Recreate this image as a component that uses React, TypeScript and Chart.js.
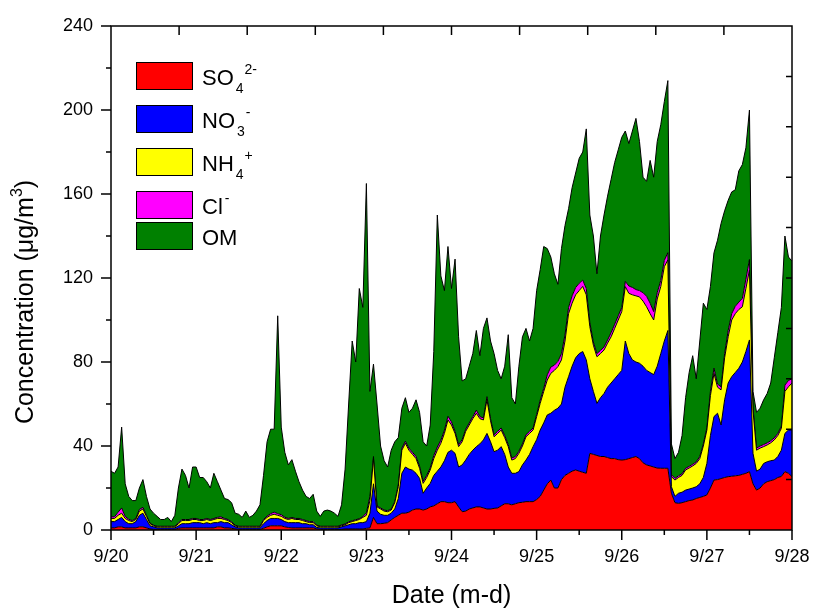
import React, { useEffect, useRef } from "react";
import { Chart, registerables } from "chart.js";

Chart.register(...registerables);

// hours since 9/20 00:00 (hourly samples, 9/20 .. 9/28)
const HOURS: number[] = Array.from({ length: 193 }, (_, i) => i);
const DAY_LABELS = ["9/20", "9/21", "9/22", "9/23", "9/24", "9/25", "9/26", "9/27", "9/28"];
const Y_MAX = 240;
const Y_STEP = 40;

const SO4 = [
  1, 1, 1.5, 1.5, 1, 1, 1, 1, 1.5, 1.5,
  1, .5, .3, .3, .3, .3, .3, .3, .3, .8,
  1, 1, 1, 1, 1, 1, 1, 1, 1, 1,
  1.5, 1.5, 1, 1, .8, .5, .3, .3, .3, .3,
  .3, .3, .3, .8, 1.5, 2, 2, 2, 2, 1.5,
  1.2, 1, 1, 1, 1, 1, 1, 1, .5, .3,
  .3, .3, .3, .3, .3, .3, .5, .5, .5, .5,
  .5, .5, .8, 1, 6, 3, 3, 3.2, 3.5, 4.8,
  6, 7, 8, 8, 8.5, 9.5, 10, 10, 9.5, 10,
  11, 11.5, 12.5, 13.5, 13.5, 13, 13, 13.5, 11, 8.7,
  9, 10, 10.5, 11, 11, 10.5, 10, 10, 10.3, 10.5,
  11.5, 12.5, 12.5, 12, 12.5, 13, 13.2, 13.5, 13.5, 13.5,
  14.5, 16, 19, 22, 23.8, 20, 20, 24, 26, 27,
  28, 28.6, 28, 27.5, 27, 36.5, 36, 35.5, 35, 35,
  34.5, 34, 34, 33.5, 33.3, 33.5, 34, 34.5, 35, 34,
  32, 31, 30.5, 30, 29.5, 29.4, 29.4, 29.4, 17.5, 13,
  12.7, 13, 13.5, 14, 14.3, 15, 15.5, 16, 16.7, 20,
  23.8, 24, 24.5, 25, 25.4, 25.6, 25.8, 26, 26.5, 27,
  27.8, 22, 19, 20, 22, 23, 23.5, 24, 25, 25.5,
  27.8, 27, 25.4,
];

const NO3 = [
  3, 3, 3.5, 4.5, 3, 2, 2, 3, 5.5, 6.5,
  4, 1.5, 1.2, .7, .7, .7, .7, .7, .7, 1.2,
  2, 2, 2, 2.5, 2.5, 2.5, 2, 2.5, 2, 2.5,
  2, 2.5, 2.5, 2.5, 1.7, 1, .7, .7, .7, .7,
  .7, .7, .7, 2.2, 3, 3.5, 3.5, 3.5, 3, 2.5,
  2.3, 2.5, 2.5, 2.5, 2, 2, 1.5, 1.5, .7, .7,
  .7, .7, .7, .7, .7, 1.2, 1.5, 2, 2.5, 2.5,
  3, 3, 3.2, 7, 16, 6, 4.5, 3.8, 3.5, 3.2,
  4, 8, 19, 22, 20.5, 19, 17, 14.6, 8, 10,
  11.2, 14.5, 15.5, 16.5, 19.5, 24, 25, 23, 19, 22.3,
  24.3, 26, 27.5, 28.7, 30, 32.4, 36, 32, 27, 27.5,
  28.2, 23.5, 17.5, 15, 14.5, 14.8, 17.8, 19.8, 22.5, 26.2,
  28.5, 31.6, 32, 32.8, 31.8, 37, 38, 36, 42, 46,
  50, 53.4, 56, 57.5, 54, 35.5, 30, 24.8, 28, 30,
  33.5, 36, 38, 40.5, 42.7, 56.5, 50, 46.5, 45, 45.4,
  46, 45, 44.5, 44, 48.5, 54.6, 60.6, 65.6, 3.1, 3,
  4.8, 5, 5.5, 5.5, 5.7, 5.6, 6.5, 9, 15, 25,
  30.2, 31.6, 25.5, 37, 44.6, 47.4, 49.2, 51, 53.5, 58,
  62.7, 14.5, 9, 9, 9.7, 9.5, 9.5, 9.3, 10, 12.5,
  18.2, 20.6, 22.2,
];

const NH4 = [
  1.5, 1.5, 2, 2, 1.5, 1.5, 1, 1, 2, 2,
  1.5, 1, .5, .5, .5, .5, .5, .5, .5, 1,
  1.5, 1.5, 1.5, 1.5, 1.5, 1, 1.5, 1.5, 1.5, 1.5,
  2, 1.5, 1.5, 1, 1, .5, .5, .5, .5, .5,
  .5, .5, .5, 1.5, 1.5, 1.5, 2, 1.5, 1.5, 1.5,
  1.5, 2, 1.5, 1.5, 1.5, 1, 1, 1, .8, .5,
  .5, .5, .5, .5, .5, .5, .5, 1, 1, 1.5,
  1.5, 2.5, 3, 6, 12, 2, 2.5, 2, 1.7, 1.5,
  3, 5.6, 11, 11.3, 9, 7.5, 7, 4.8, 4.7, 5,
  6.4, 8, 10, 11.3, 13, 15.4, 12, 9.5, 9.7, 11,
  13.7, 14, 15, 15.9, 12, 9.5, 16, 10, 7.1, 8,
  7.9, 8, 9.7, 6.3, 7, 8.7, 9, 11.1, 10, 7.9,
  11, 12.7, 15, 16.6, 19, 19, 19.8, 21, 22, 30,
  30, 30, 30, 31, 31, 24.8, 22, 22.2, 21, 20.7,
  21, 22, 24, 26, 28, 25.9, 28.7, 31, 31.5, 31.6,
  31, 30.3, 28, 26, 32, 31.9, 35.4, 33.6, 4.8, 7.8,
  7.5, 8, 9.6, 10, 10.5, 11.1, 12, 15, 15.9, 19,
  20.6, 12.4, 16.7, 20, 22, 27, 28, 28, 26.3, 30,
  33.3, 20.5, 10, 10, 8, 8, 8.5, 9.6, 10, 10.4,
  20, 20.6, 22.4,
];

const CL = [
  .8, .8, 1.5, 2.5, 1, .6, .5, .5, .8, .8,
  .5, .3, .3, .3, .3, .3, .3, .3, .3, .4,
  .5, .5, .5, .5, .5, .5, .5, .5, .5, .5,
  .5, .8, .5, .5, .4, .3, .3, .3, .3, .3,
  .3, .3, .3, .5, .6, .8, 1, .8, .8, .6,
  .5, .5, .5, .5, .5, .5, .5, .5, .3, .3,
  .3, .3, .3, .3, .3, .4, .4, .4, .4, .4,
  .4, .4, 1.2, 2, 1, .5, .5, .5, .5, .5,
  .5, 1, 1, 1, 1, 1, 1, 1, 1, 1,
  1, 1.5, 1.5, 1.5, 1.5, 1.8, 1.5, 1, 1, 1,
  1, 1, 1, 1.5, 1, 1, 1.5, 1, 1, 1,
  1, 1, 1, 1, 1, 1, 1, 1, 1, 1,
  1, 1.5, 1.5, 2.5, 3, 2.5, 2.5, 3, 3, 3,
  3.5, 3.5, 3.5, 3, 3, 2, 1.5, 1.5, 1.5, 1.5,
  1.5, 2, 2, 2, 2, 2.5, 3.5, 3.5, 3, 3,
  4, 5, 5, 4, 3, 3, 3, 3.5, 1, .8,
  .8, .8, .8, .8, .8, .8, 1, 1, 1, 2,
  2.5, 1.5, 1.5, 2, 3, 3, 3.5, 3.5, 4, 4.5,
  5, 1.5, 1, 1, 1, 1, 1, 1, 1, 1,
  3, 3, 2,
];

const OM = [
  21.7, 20.7, 21.5, 38.5, 15.5, 10.9, 9.5, 8.5, 10.2, 13.2,
  9, 6.7, 5.7, 4.7, 3.2, 3.2, 4.2, 2.2, 5.2, 16.6,
  24, 21, 15, 24.5, 24.5, 20, 20, 17.5, 15, 21.5,
  17, 12.7, 9.5, 9.5, 9.1, 5.7, 5.7, 4.2, 7.2, 4.2,
  5.2, 7.2, 10.2, 21, 35.4, 40.2, 39.5, 94.2, 41.7, 30.9,
  25.5, 27.5, 22.5, 17.5, 14, 11.5, 11, 13, 6.7, 4.7,
  7.2, 7.7, 7.2, 6.2, 4.7, 9.6, 26.1, 56.1, 85.6, 75.1,
  109.6, 99.6, 156.8, 50, 44, 48.5, 29.5, 23.5, 20.8, 28,
  28.5, 22.4, 19, 20.7, 17, 21, 27, 25.6, 18.8, 14,
  20.4, 49.5, 110.5, 78.2, 66.5, 80.8, 63.5, 82, 51.3, 28,
  24, 27, 30, 37.9, 29, 42.6, 37.5, 37, 38.6, 29,
  23.4, 33, 52.3, 28.7, 25, 40.5, 51, 50.6, 43, 47.4,
  59, 62.2, 67.5, 60.1, 52.4, 43.5, 36.7, 50, 52, 47,
  51.5, 54.5, 59.5, 61, 76, 51.2, 50.5, 38, 54.5, 62.8,
  68.5, 73, 77, 79, 81, 71.6, 67.8, 74.5, 81.5, 71,
  55, 54.7, 68, 64, 72, 74.1, 75.6, 81.9, 14.6, 9.4,
  11.2, 18.2, 33.6, 44.7, 51.7, 39.5, 55, 67, 56.4, 50,
  54.9, 68.5, 77.8, 68, 62, 58, 55.5, 62.5, 63.7, 62.5,
  71.2, 7.5, 17, 18, 21.3, 23.5, 27.5, 38.1, 48, 56.6,
  71, 58.8, 56,
];

type Part = { t: string; k: "n" | "sub" | "sup" };
const SERIES: { parts: Part[]; color: string; values: number[] }[] = [
  { parts: [{ t: "SO", k: "n" }, { t: "4", k: "sub" }, { t: "2-", k: "sup" }], color: "#FF0000", values: SO4 },
  { parts: [{ t: "NO", k: "n" }, { t: "3", k: "sub" }, { t: "-", k: "sup" }], color: "#0000FF", values: NO3 },
  { parts: [{ t: "NH", k: "n" }, { t: "4", k: "sub" }, { t: "+", k: "sup" }], color: "#FFFF00", values: NH4 },
  { parts: [{ t: "Cl", k: "n" }, { t: "-", k: "sup" }], color: "#FF00FF", values: CL },
  { parts: [{ t: "OM", k: "n" }], color: "#008000", values: OM },
];

const FONT = "'Liberation Sans', Arial, Helvetica, sans-serif";

const decorPlugin = {
  id: "decor",
  afterDraw(chart: any) {
    const { ctx, chartArea: a, scales } = chart;
    const xs = scales.x;
    const ys = scales.y;
    ctx.save();
    ctx.strokeStyle = "#000";
    ctx.lineWidth = 1.5;
    ctx.strokeRect(a.left, a.top, a.right - a.left, a.bottom - a.top);
    ctx.beginPath();
    for (let h = 0; h <= 192; h += 12) {
      const px = xs.getPixelForValue(h);
      const len = h % 24 === 0 ? 10 : 5;
      ctx.moveTo(px, a.bottom);
      ctx.lineTo(px, a.bottom + len);
    }
    for (let v = 0; v <= Y_MAX; v += Y_STEP / 2) {
      const py = ys.getPixelForValue(v);
      const len = v % Y_STEP === 0 ? 10 : 5;
      ctx.moveTo(a.left, py);
      ctx.lineTo(a.left - len, py);
    }
    for (let i = 1; i < 10; i++) {
      const px = xs.getPixelForValue((192 * i) / 10);
      ctx.moveTo(px, a.top);
      ctx.lineTo(px, a.top + 9);
      const py = ys.getPixelForValue((Y_MAX * i) / 10);
      ctx.moveTo(a.right, py);
      ctx.lineTo(a.right - 6, py);
    }
    ctx.stroke();

    // axis titles
    ctx.fillStyle = "#000";
    ctx.font = `25px ${FONT}`;
    ctx.textAlign = "center";
    ctx.textBaseline = "alphabetic";
    ctx.fillText("Date (m-d)", (a.left + a.right) / 2, 603);

    ctx.save();
    ctx.translate(33, 302);
    ctx.rotate(-Math.PI / 2);
    const main = "Concentration (\u03bcg/m";
    ctx.font = `25px ${FONT}`;
    const w1 = ctx.measureText(main).width;
    ctx.font = `16px ${FONT}`;
    const w2 = ctx.measureText("3").width;
    ctx.font = `25px ${FONT}`;
    const w3 = ctx.measureText(")").width;
    const total = w1 + w2 + w3;
    ctx.textAlign = "left";
    let cx = -total / 2;
    ctx.fillText(main, cx, 0);
    cx += w1;
    ctx.font = `16px ${FONT}`;
    ctx.fillText("3", cx, -11);
    cx += w2;
    ctx.font = `25px ${FONT}`;
    ctx.fillText(")", cx, 0);
    ctx.restore();

    // legend
    const boxTops = [62, 105, 148, 191, 222];
    SERIES.forEach((s, i) => {
      const top = boxTops[i];
      ctx.fillStyle = s.color;
      ctx.fillRect(136, top, 57, 28);
      ctx.lineWidth = 1;
      ctx.strokeStyle = "#000";
      ctx.strokeRect(136.5, top + 0.5, 56, 27);
      ctx.fillStyle = "#000";
      ctx.textAlign = "left";
      let tx = 202;
      const base = top + 23;
      s.parts.forEach((p) => {
        if (p.k === "n") {
          ctx.font = `22px ${FONT}`;
          ctx.fillText(p.t, tx, base);
          tx += ctx.measureText(p.t).width + 2;
        } else if (p.k === "sub") {
          ctx.font = `14px ${FONT}`;
          ctx.fillText(p.t, tx, base + 8);
          tx += ctx.measureText(p.t).width + 1;
        } else {
          ctx.font = `14px ${FONT}`;
          ctx.fillText(p.t, tx, base - 11);
          tx += ctx.measureText(p.t).width;
        }
      });
    });
    ctx.restore();
  },
};

export default function App() {
  const ref = useRef<HTMLCanvasElement>(null);
  useEffect(() => {
    if (!ref.current) return;
    const chart = new Chart(ref.current, {
      type: "line",
      data: {
        datasets: SERIES.map((s, i) => ({
          label: s.parts.map((p) => p.t).join(""),
          data: s.values.map((v, j) => ({ x: HOURS[j], y: v })),
          backgroundColor: s.color,
          borderColor: "#000",
          borderWidth: 1,
          pointRadius: 0,
          tension: 0,
          fill: i === 0 ? "origin" : "-1",
        })),
      },
      options: {
        animation: false,
        responsive: false,
        devicePixelRatio: 1,
        layout: { padding: { left: 0, top: 26, right: 21, bottom: 0 } },
        plugins: { legend: { display: false }, tooltip: { enabled: false } },
        scales: {
          x: {
            type: "linear",
            min: 0,
            max: 192,
            grid: { display: false, drawTicks: false },
            border: { display: false },
            ticks: {
              stepSize: 24,
              autoSkip: false,
              maxRotation: 0,
              padding: 16,
              color: "#000",
              font: { family: FONT, size: 18 },
              callback: (v: any) => DAY_LABELS[Math.round(Number(v) / 24)] ?? "",
            },
            afterFit: (s: any) => {
              s.height = 78;
              s.paddingLeft = 0;
              s.paddingRight = 0;
            },
          },
          y: {
            stacked: true,
            min: 0,
            max: Y_MAX,
            grid: { display: false, drawTicks: false },
            border: { display: false },
            ticks: {
              stepSize: Y_STEP,
              padding: 18,
              color: "#000",
              font: { family: FONT, size: 18 },
            },
            afterFit: (s: any) => {
              s.width = 111;
              s.paddingTop = 0;
              s.paddingBottom = 0;
            },
          },
        },
      },
      plugins: [decorPlugin],
    } as any);
    return () => chart.destroy();
  }, []);
  return (
    <div style={{ position: "absolute", left: 0, top: 0, width: 813, height: 608, background: "#fff" }}>
      <canvas ref={ref} width={813} height={608} style={{ display: "block", width: 813, height: 608 }} />
    </div>
  );
}
